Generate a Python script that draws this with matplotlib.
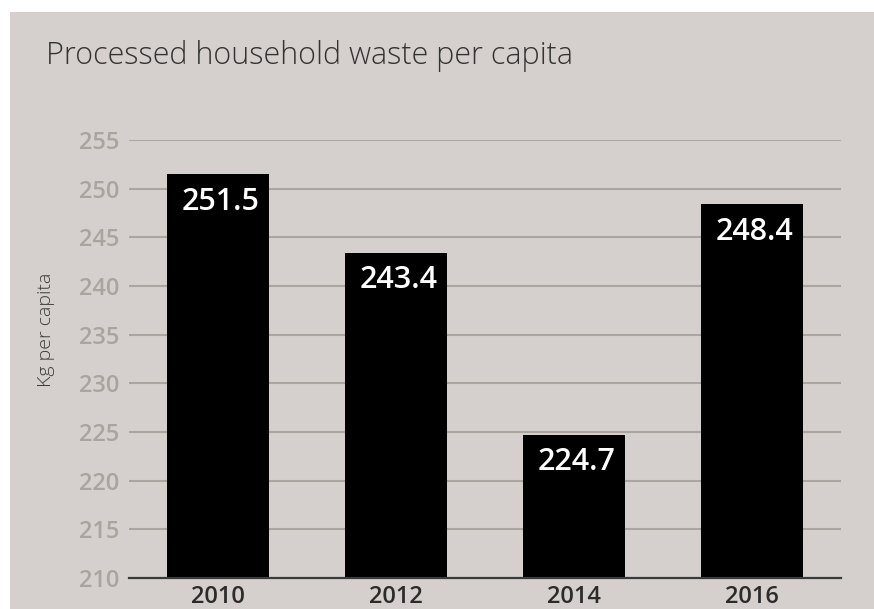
import matplotlib.pyplot as plt
from matplotlib.patches import Rectangle

years = ["2010", "2012", "2014", "2016"]
waste = [251.5, 243.4, 224.7, 248.4]
yticks = [210, 215, 220, 225, 230, 235, 240, 245, 250, 255]

bg = "#d5d0cd"
grid_col = "#aaa69f"

plt.rcParams['font.family'] = ['Open Sans', 'DejaVu Sans']

fig = plt.figure(figsize=(8.74, 6.09), dpi=100)
fig.patch.set_facecolor("white")
# grey panel behind everything
fig.patches.append(Rectangle((10 / 874, 0), 1, 1 - 12 / 609, transform=fig.transFigure,
                             facecolor=bg, edgecolor="none", zorder=-10))

ax = fig.add_axes([129 / 874, 1 - 578 / 609, 712 / 874, (578 - 140) / 609])
ax.patch.set_alpha(0)

x = range(len(years))
ax.bar(x, waste, width=0.57, color="black", zorder=3)
ax.set_ylim(210, 255)
ax.set_xlim(-0.5, 3.5)
ax.set_yticks(yticks)
ax.set_xticks(list(x))
ax.set_xticklabels(years)

for t in yticks[1:]:
    ax.axhline(t, color=grid_col, lw=1.5, zorder=1)

for s in ["top", "right", "left"]:
    ax.spines[s].set_visible(False)
ax.spines["bottom"].set_color("#3a3a3a")
ax.spines["bottom"].set_linewidth(1.6)
ax.spines["bottom"].set_zorder(4)

ax.tick_params(axis="y", length=0, pad=7, labelsize=17, labelcolor="#a8a59e")
ax.tick_params(axis="x", length=0, pad=5, labelsize=17, labelcolor="#2b2b2b")
for lbl in ax.get_yticklabels() + ax.get_xticklabels():
    lbl.set_fontweight("semibold")

for xi, v in zip(x, waste):
    ax.annotate(f"{v:.1f}", (xi, v), xytext=(2, -9), textcoords="offset points",
                ha="center", va="top", color="white", fontsize=22, fontweight="semibold",
                zorder=5)

fig.text(46 / 874, 1 - 330 / 609, "Kg per capita", rotation=90, ha="center", va="center",
         fontsize=14, fontweight="light", color="#3a3a3a")

fig.text(46 / 874, 1 - 64 / 609, "Processed household waste per capita", fontsize=22,
         fontweight="light", color="#333333", ha="left", va="baseline")

fig.savefig("out.png", dpi=100, facecolor=fig.get_facecolor())
